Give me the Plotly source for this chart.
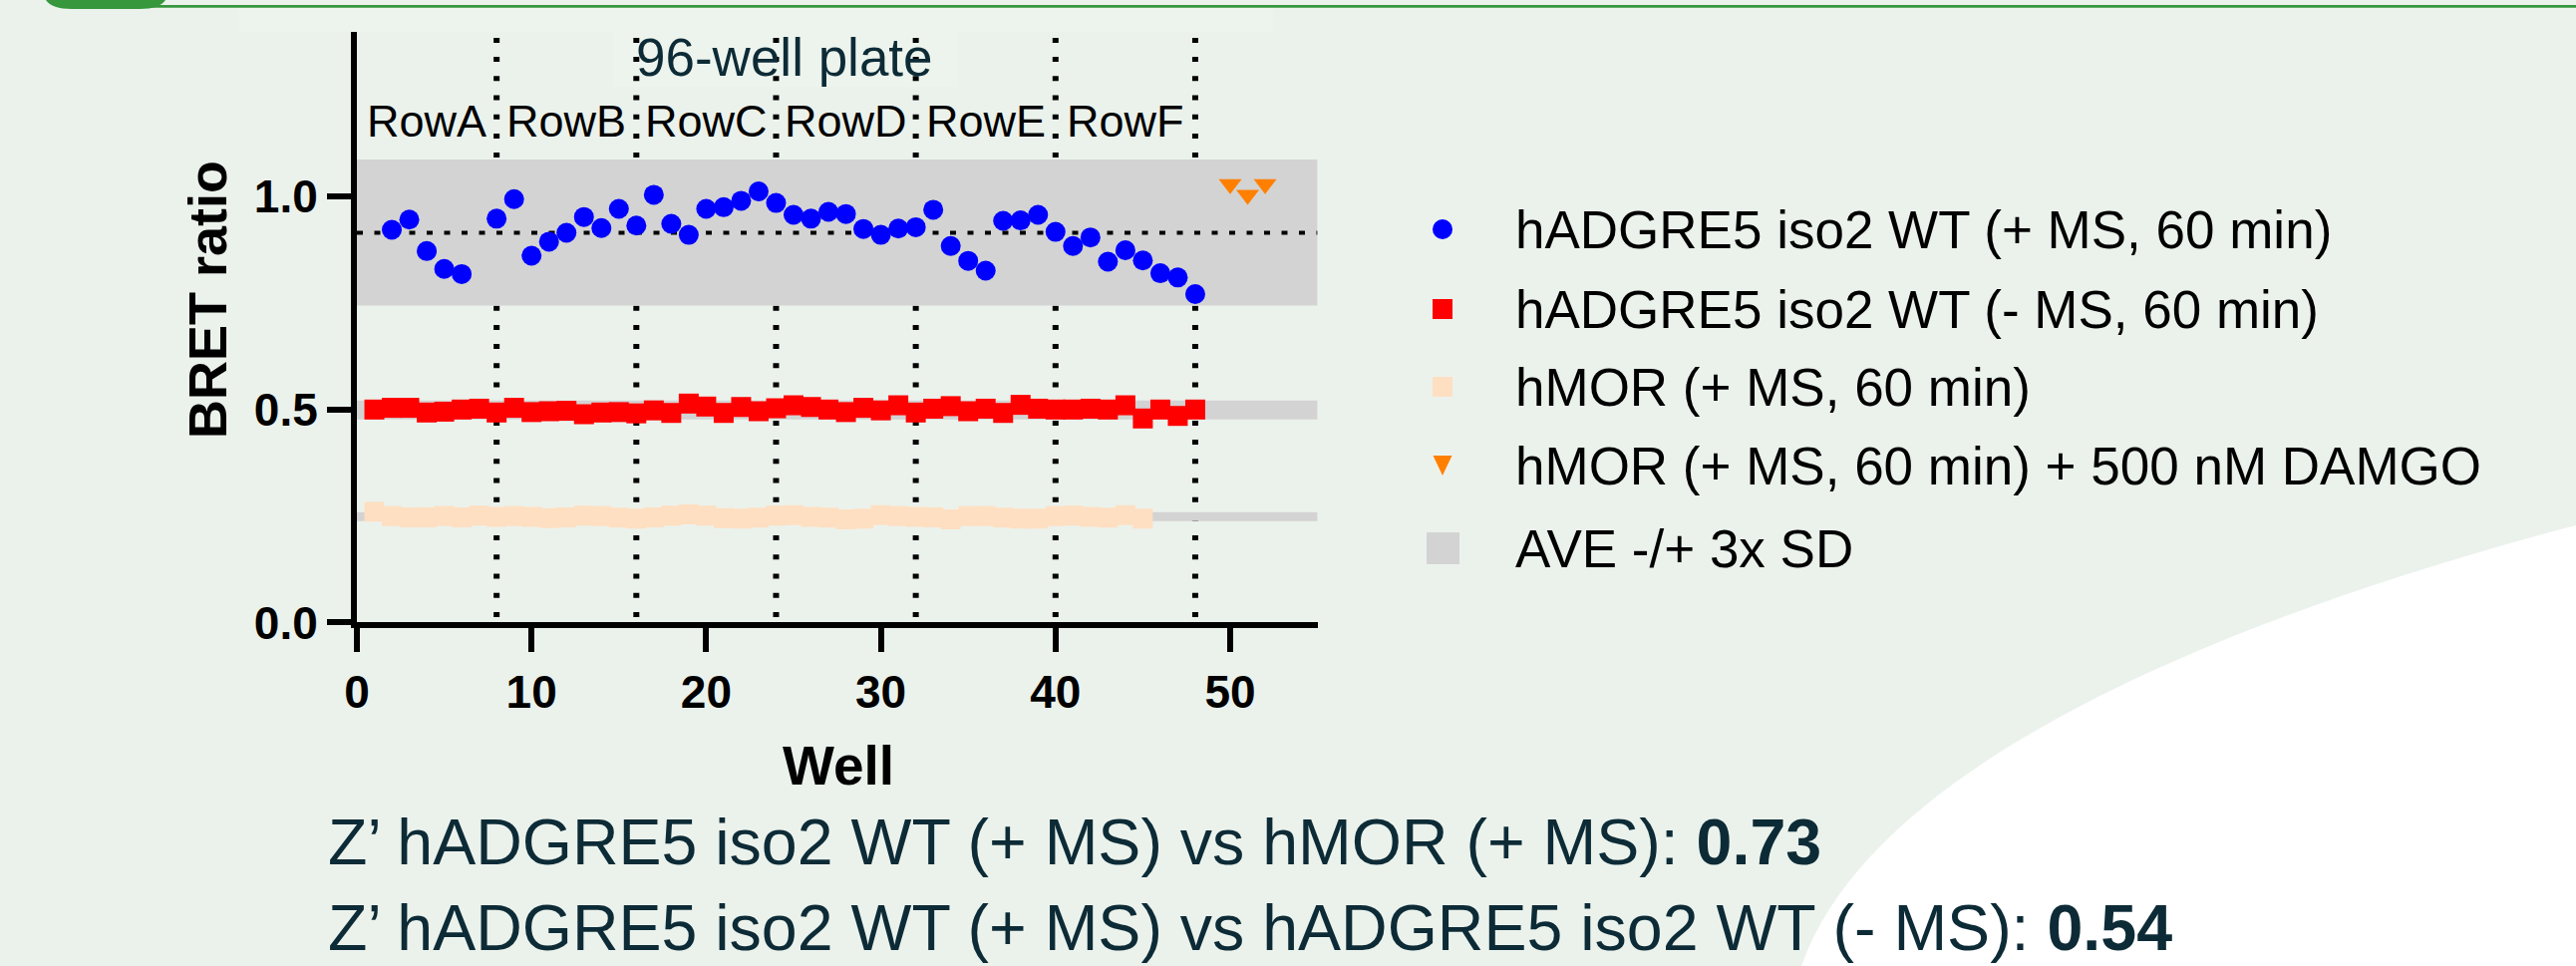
import plotly.graph_objects as go

W, H = 2584, 969

# ---------------- data ----------------
wells_plus_ms = [2, 3, 4, 5, 6, 8, 9, 10, 11, 12, 13, 14, 15, 16, 17, 18, 19, 20, 21, 22,
                 23, 24, 25, 26, 27, 28, 29, 30, 31, 32, 33, 34, 35, 36, 37, 38, 39, 40,
                 41, 42, 43, 44, 45, 46, 47, 48]
bret_plus_ms = [0.922, 0.946, 0.872, 0.830, 0.818, 0.948, 0.994, 0.861, 0.894, 0.915,
                0.952, 0.926, 0.971, 0.932, 1.004, 0.936, 0.910, 0.971, 0.975, 0.990,
                1.012, 0.985, 0.957, 0.948, 0.964, 0.959, 0.924, 0.910, 0.925, 0.928,
                0.969, 0.884, 0.849, 0.826, 0.943, 0.944, 0.957, 0.917, 0.884, 0.904,
                0.847, 0.874, 0.850, 0.820, 0.810, 0.771]

wells_minus_ms = [1, 2, 3, 4, 5, 6, 7, 8, 9, 10, 11, 12, 13, 14, 15, 16, 17, 18, 19, 20,
                  21, 22, 23, 24, 25, 26, 27, 28, 29, 30, 31, 32, 33, 34, 35, 36, 37, 38,
                  39, 40, 41, 42, 43, 44, 45, 46, 47, 48]
bret_minus_ms = [0.500, 0.504, 0.504, 0.493, 0.495, 0.500, 0.502, 0.493, 0.504, 0.494,
                 0.496, 0.497, 0.489, 0.493, 0.494, 0.491, 0.498, 0.492, 0.514, 0.507,
                 0.492, 0.506, 0.496, 0.503, 0.510, 0.506, 0.500, 0.494, 0.504, 0.498,
                 0.510, 0.493, 0.502, 0.508, 0.496, 0.502, 0.492, 0.511, 0.502, 0.500,
                 0.500, 0.502, 0.500, 0.510, 0.479, 0.500, 0.485, 0.500]

wells_hmor = [1, 2, 3, 4, 5, 6, 7, 8, 9, 10, 11, 12, 13, 14, 15, 16, 17, 18, 19, 20,
              21, 22, 23, 24, 25, 26, 27, 28, 29, 30, 31, 32, 33, 34, 35, 36, 37, 38,
              39, 40, 41, 42, 43, 44, 45]
bret_hmor = [0.260, 0.250, 0.247, 0.247, 0.250, 0.247, 0.251, 0.248, 0.250, 0.248,
             0.245, 0.247, 0.251, 0.250, 0.246, 0.244, 0.247, 0.251, 0.254, 0.251,
             0.245, 0.244, 0.246, 0.251, 0.252, 0.248, 0.246, 0.242, 0.244, 0.252,
             0.250, 0.248, 0.247, 0.242, 0.250, 0.250, 0.246, 0.244, 0.244, 0.250,
             0.251, 0.248, 0.246, 0.252, 0.244]

wells_damgo = [50, 51, 52]
bret_damgo = [1.029, 1.004, 1.029]

# AVE -/+ 3x SD bands: hADGRE5 +MS, hADGRE5 -MS, hMOR +MS
band_low = [0.744, 0.477, 0.238]
band_high = [1.087, 0.521, 0.259]
plus_ms_mean = 0.915

plate_rows = ["RowA", "RowB", "RowC", "RowD", "RowE", "RowF"]
row_centers = [4, 12, 20, 28, 36, 44]
row_boundaries = [8, 16, 24, 32, 40, 48]

x_ticks = [0, 10, 20, 30, 40, 50]
y_ticks = [0.0, 0.5, 1.0]
y_tick_labels = ["0.0", "0.5", "1.0"]
x_range = [0, 55]
y_range = [0, 1.3865]

legend_labels = [
    "hADGRE5 iso2 WT (+ MS, 60 min)",
    "hADGRE5 iso2 WT (- MS, 60 min)",
    "hMOR (+ MS, 60 min)",
    "hMOR (+ MS, 60 min) + 500 nM DAMGO",
    "AVE -/+ 3x SD",
]
z_lines = [
    "Z\u2019 hADGRE5 iso2 WT (+ MS) vs hMOR (+ MS): <b>0.73</b>",
    "Z\u2019 hADGRE5 iso2 WT (+ MS) vs hADGRE5 iso2 WT (- MS): <b>0.54</b>",
]

# ---------------- styles ----------------
BG = "#EBF2EC"
BLUE = "#0000FF"
RED = "#FF0000"
PEACH = "#FFDFC2"
ORANGE = "#FF8000"
BAND = "#D3D3D3"
NAVY = "#0D2B36"
GREEN = "#36973C"
ARIAL = "Liberation Sans, Arial, Helvetica, sans-serif"


def px(x):
    return x / W


def py(y):
    return 1 - y / H


fig = go.Figure()
fig.add_trace(go.Scatter(x=wells_hmor, y=bret_hmor, mode="markers",
                         marker=dict(symbol="square", size=20, color=PEACH),
                         name=legend_labels[2]))
fig.add_trace(go.Scatter(x=wells_minus_ms, y=bret_minus_ms, mode="markers",
                         marker=dict(symbol="square", size=20, color=RED),
                         name=legend_labels[1]))
fig.add_trace(go.Scatter(x=wells_plus_ms, y=bret_plus_ms, mode="markers",
                         marker=dict(symbol="circle", size=20, color=BLUE),
                         name=legend_labels[0]))
fig.add_trace(go.Scatter(x=wells_damgo, y=bret_damgo, mode="markers",
                         marker=dict(symbol="triangle-down", size=20, color=ORANGE),
                         name=legend_labels[3]))

shapes = []
# poster background decoration
shapes.append(dict(type="rect", xref="paper", yref="paper", x0=px(239), x1=px(1277),
                   y0=py(32), y1=py(8), fillcolor="#EDF4EE", line_width=0, layer="below"))
shapes.append(dict(type="rect", xref="paper", yref="paper", x0=px(615), x1=px(960),
                   y0=py(87), y1=py(32), fillcolor="#EDF4EE", line_width=0, layer="below"))
shapes.append(dict(type="rect", xref="paper", yref="paper", x0=px(60), x1=1,
                   y0=py(7.7), y1=py(5), fillcolor=GREEN, line_width=0, layer="below"))
blob = (f"M{px(46)},{py(0)} L{px(166)},{py(0)} Q{px(160)},{py(9)} {px(140)},{py(9)} "
        f"L{px(72)},{py(9)} Q{px(52)},{py(9)} {px(46)},{py(0)} Z")
shapes.append(dict(type="path", xref="paper", yref="paper", path=blob,
                   fillcolor=GREEN, line_width=0, layer="below"))
curve = (f"M{px(2584)},{py(527)} C{px(2250)},{py(615)} {px(1880)},{py(760)} "
         f"{px(1807)},{py(969)} L{px(2584)},{py(969)} Z")
shapes.append(dict(type="path", xref="paper", yref="paper", path=curve,
                   fillcolor="#FFFFFF", line_width=0, layer="below"))

# plate row separators (drawn under the bands)
for xb in row_boundaries:
    shapes.append(dict(type="line", xref="x", yref="y", x0=xb, x1=xb, y0=0.013, y1=y_range[1],
                       line=dict(color="black", width=6, dash="5px,14.2px"), layer="below"))
# AVE -/+ 3x SD bands
for lo, hi in zip(band_low, band_high):
    shapes.append(dict(type="rect", xref="x", yref="y", x0=x_range[0], x1=x_range[1],
                       y0=lo, y1=hi, fillcolor=BAND, line_width=0, layer="below"))
# mean line of hADGRE5 (+ MS)
shapes.append(dict(type="line", xref="x", yref="y", x0=x_range[0], x1=x_range[1],
                   y0=plus_ms_mean, y1=plus_ms_mean,
                   line=dict(color="black", width=4, dash="6px,11.5px"), layer="below"))

# legend glyphs
leg_x = 1447
leg_y = [230, 310, 388, 467, 550]
shapes.append(dict(type="circle", xref="paper", yref="paper",
                   x0=px(leg_x - 10), x1=px(leg_x + 10), y0=py(leg_y[0] + 10), y1=py(leg_y[0] - 10),
                   fillcolor=BLUE, line_width=0))
shapes.append(dict(type="rect", xref="paper", yref="paper",
                   x0=px(leg_x - 10), x1=px(leg_x + 10), y0=py(leg_y[1] + 10), y1=py(leg_y[1] - 10),
                   fillcolor=RED, line_width=0))
shapes.append(dict(type="rect", xref="paper", yref="paper",
                   x0=px(leg_x - 10), x1=px(leg_x + 10), y0=py(leg_y[2] + 10), y1=py(leg_y[2] - 10),
                   fillcolor=PEACH, line_width=0))
tri = (f"M{px(leg_x - 9.5)},{py(leg_y[3] - 10)} L{px(leg_x + 9.5)},{py(leg_y[3] - 10)} "
       f"L{px(leg_x)},{py(leg_y[3] + 10)} Z")
shapes.append(dict(type="path", xref="paper", yref="paper", path=tri,
                   fillcolor=ORANGE, line_width=0))
shapes.append(dict(type="rect", xref="paper", yref="paper",
                   x0=px(leg_x - 16), x1=px(leg_x + 17), y0=py(leg_y[4] + 16), y1=py(leg_y[4] - 16),
                   fillcolor=BAND, line_width=0))

annotations = []
annotations.append(dict(text="96-well plate", xref="paper", yref="paper", x=px(787), y=py(57),
                        xanchor="center", yanchor="middle", showarrow=False,
                        font=dict(family=ARIAL, size=53, color=NAVY)))
for name, xc in zip(plate_rows, row_centers):
    annotations.append(dict(text=name, xref="x", yref="paper", x=xc, y=py(121.5),
                            xanchor="center", yanchor="middle", showarrow=False,
                            font=dict(family=ARIAL, size=45, color="black")))
for label, yc in zip(legend_labels, leg_y):
    annotations.append(dict(text=label, xref="paper", yref="paper", x=px(1518), y=py(yc),
                            xanchor="left", yanchor="middle", showarrow=False,
                            font=dict(family=ARIAL, size=53, color="black")))
annotations.append(dict(text="<b>Well</b>", xref="paper", yref="paper", x=px(841), y=py(767.5),
                        xanchor="center", yanchor="middle", showarrow=False,
                        font=dict(family=ARIAL, size=55, color="black")))
annotations.append(dict(text="<b>BRET ratio</b>", xref="paper", yref="paper", x=px(208), y=py(301),
                        xanchor="center", yanchor="middle", showarrow=False, textangle=-90,
                        font=dict(family=ARIAL, size=54, color="black")))
for line, yc in zip(z_lines, [845, 931]):
    annotations.append(dict(text=line, xref="paper", yref="paper", x=px(327), y=py(yc),
                            xanchor="left", yanchor="middle", showarrow=False,
                            font=dict(family=ARIAL, size=64.5, color=NAVY)))

axis_common = dict(showline=True, linewidth=6, linecolor="black", automargin=False,
                   ticks="outside", ticklen=24, tickwidth=6, tickcolor="black",
                   showgrid=False, zeroline=False, fixedrange=True,
                   tickfont=dict(family=ARIAL, size=46, color="black", weight="bold"))

fig.update_layout(
    width=W, height=H, autosize=False,
    margin=dict(l=0, r=0, t=0, b=0, pad=0, autoexpand=False),
    paper_bgcolor=BG, plot_bgcolor="rgba(0,0,0,0)",
    showlegend=False, hovermode=False,
    font=dict(family=ARIAL, color="black"),
    xaxis=dict(domain=[px(358), px(1321.6)], range=x_range, tickvals=x_ticks, **axis_common),
    yaxis=dict(domain=[py(624.45), py(32)], range=y_range, tickvals=y_ticks,
               ticktext=y_tick_labels, **axis_common),
    shapes=shapes,
    annotations=annotations,
)

fig.write_html("out.html", config={"displayModeBar": False},
               post_script="document.body.style.margin='0';document.body.style.background='#EBF2EC';")
